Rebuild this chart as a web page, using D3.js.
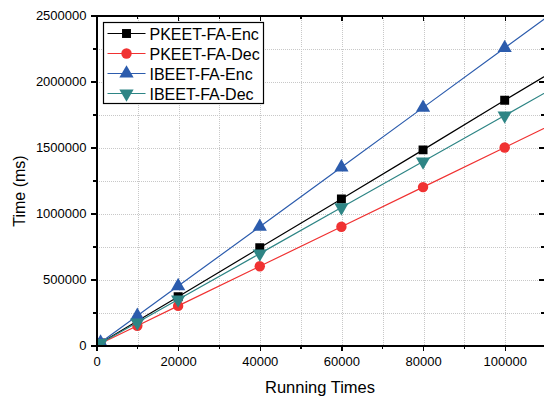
<!DOCTYPE html>
<meta charset="utf-8">
<title>Running Times</title>
<style>
body { margin: 0; background: #fff; }
svg { font-family: "Liberation Sans", Arial, sans-serif; }
.grid line { stroke: #c8c8c8; stroke-width: 1; stroke-dasharray: 1,1; shape-rendering: crispEdges; }
.axis path, .axis line { stroke: #000; stroke-width: 1.3; fill: none; shape-rendering: crispEdges; }
.axis text { font-size: 13px; fill: #000; }
.series { fill: none; stroke-width: 1.2; }
</style>
<body>
<script src="https://d3js.org/d3.v7.min.js"></script>
<script>
// data
var runs = [1000, 10000, 20000, 40000, 60000, 80000, 100000, 120000];
var pkeetEnc = [18500, 185000, 370000, 740000, 1110000, 1482000, 1858000, 2228000];
var pkeetDec = [15000, 150000, 300000, 600000, 900000, 1200000, 1500000, 1800000];
var ibeetEnc = [22500, 225000, 450000, 900000, 1350000, 1802000, 2254000, 2705000];
var ibeetDec = [17400, 174000, 348000, 696000, 1046000, 1394000, 1742000, 2090000];
var names = ["PKEET-FA-Enc", "PKEET-FA-Dec", "IBEET-FA-Enc", "IBEET-FA-Dec"];
var xTicks = [0, 20000, 40000, 60000, 80000, 100000];
var yTicks = [0, 500000, 1000000, 1500000, 2000000, 2500000];

var series = [
  {name: names[0], values: pkeetEnc, color: "#000000", shape: d3.symbolSquare, size: 80, rot: 0},
  {name: names[1], values: pkeetDec, color: "#f03232", shape: d3.symbolCircle, size: 85, rot: 0},
  {name: names[2], values: ibeetEnc, color: "#2c5cad", shape: d3.symbolTriangle, size: 88, rot: 0},
  {name: names[3], values: ibeetDec, color: "#2e8585", shape: d3.symbolTriangle, size: 88, rot: 180}
];

var W = 544, H = 398;
var margin = {top: 15.5, right: 0, bottom: 52.5, left: 96.5};
var width = 449, height = H - margin.top - margin.bottom;

var x = d3.scaleLinear().domain([0, 110000]).range([0, width]);
var y = d3.scaleLinear().domain([0, 2500000]).range([height, 0]);

var svg = d3.select("body").append("svg").attr("width", W).attr("height", H);
var g = svg.append("g").attr("transform", "translate(" + margin.left + "," + margin.top + ")");

svg.append("defs").append("clipPath").attr("id", "clip")
  .append("rect").attr("x", 0).attr("y", 0).attr("width", width).attr("height", height);

// grid at major and minor ticks
var xGrid = d3.range(10000, 110001, 10000);
var yGrid = d3.range(250000, 2500000, 250000);
var grid = g.append("g").attr("class", "grid");
grid.selectAll(".gx").data(xGrid).enter().append("line")
  .attr("x1", function(d) { return Math.round(x(d)) + 0.5; })
  .attr("x2", function(d) { return Math.round(x(d)) + 0.5; })
  .attr("y1", 0).attr("y2", height);
grid.selectAll(".gy").data(yGrid).enter().append("line")
  .attr("y1", function(d) { return Math.round(y(d)) + 0.5; })
  .attr("y2", function(d) { return Math.round(y(d)) + 0.5; })
  .attr("x1", 0).attr("x2", width);

// lines and markers
var line = d3.line()
  .x(function(d) { return x(d[0]); })
  .y(function(d) { return y(d[1]); });

var plot = g.append("g").attr("clip-path", "url(#clip)");
series.forEach(function(s) {
  var pts = runs.map(function(r, i) { return [r, s.values[i]]; });
  plot.append("path").datum(pts).attr("class", "series")
    .attr("stroke", s.color).attr("d", line);
  plot.selectAll(null).data(pts).enter().append("path")
    .attr("d", d3.symbol().type(s.shape).size(s.size))
    .attr("fill", s.color)
    .attr("transform", function(d) {
      return "translate(" + x(d[0]) + "," + y(d[1]) + ") rotate(" + s.rot + ")";
    });
});

// axes: bottom/left ticks outward, top/right ticks inward
var minorX = d3.range(0, 110001, 10000).filter(function(d) { return d % 20000 !== 0; });
var minorY = d3.range(250000, 2500000, 500000);

g.append("g").attr("class", "axis").attr("transform", "translate(0," + height + ")")
  .call(d3.axisBottom(x).tickValues(xTicks).tickSize(5).tickSizeOuter(0).tickPadding(6).tickFormat(d3.format("d")));
g.append("g").attr("class", "axis").attr("transform", "translate(0," + height + ")")
  .call(d3.axisBottom(x).tickValues(minorX).tickSize(3).tickSizeOuter(0).tickFormat(""));
g.append("g").attr("class", "axis")
  .call(d3.axisLeft(y).tickValues(yTicks).tickSize(6).tickSizeOuter(0).tickPadding(4).tickFormat(d3.format("d")));
g.append("g").attr("class", "axis")
  .call(d3.axisLeft(y).tickValues(minorY).tickSize(4).tickSizeOuter(0).tickFormat(""));
g.append("g").attr("class", "axis")
  .call(d3.axisTop(x).tickValues(xTicks).tickSize(-5).tickSizeOuter(0).tickFormat(""));
g.append("g").attr("class", "axis")
  .call(d3.axisTop(x).tickValues(minorX).tickSize(-3).tickSizeOuter(0).tickFormat(""));
g.append("g").attr("class", "axis").attr("transform", "translate(" + (width - 1) + ",0)")
  .call(d3.axisRight(y).tickValues(yTicks).tickSize(-6).tickSizeOuter(0).tickFormat(""));
g.append("g").attr("class", "axis").attr("transform", "translate(" + (width - 1) + ",0)")
  .call(d3.axisRight(y).tickValues(minorY).tickSize(-4).tickSizeOuter(0).tickFormat(""));

// axis titles
svg.append("text")
  .attr("x", 320).attr("y", 393)
  .attr("text-anchor", "middle").attr("font-size", "16.5px")
  .text("Running Times");
svg.append("text")
  .attr("transform", "translate(25,191) rotate(-90)")
  .attr("text-anchor", "middle").attr("font-size", "16px")
  .text("Time (ms)");

// legend
var lg = svg.append("g").attr("transform", "translate(103.5,22.5)");
lg.append("rect").attr("width", 160).attr("height", 81)
  .attr("fill", "#fff").attr("stroke", "#000").attr("stroke-width", 1.2);
series.forEach(function(s, i) {
  var row = lg.append("g").attr("transform", "translate(0," + (11 + i * 20) + ")");
  row.append("line").attr("x1", 4).attr("x2", 42).attr("y1", 0).attr("y2", 0)
    .attr("stroke", s.color).attr("stroke-width", 1.2);
  row.append("path").attr("d", d3.symbol().type(s.shape).size(s.size))
    .attr("fill", s.color)
    .attr("transform", "translate(23,0) rotate(" + s.rot + ")");
  row.append("text").attr("x", 46).attr("y", 6)
    .attr("font-size", "16px").text(s.name);
});
</script>
</body>
